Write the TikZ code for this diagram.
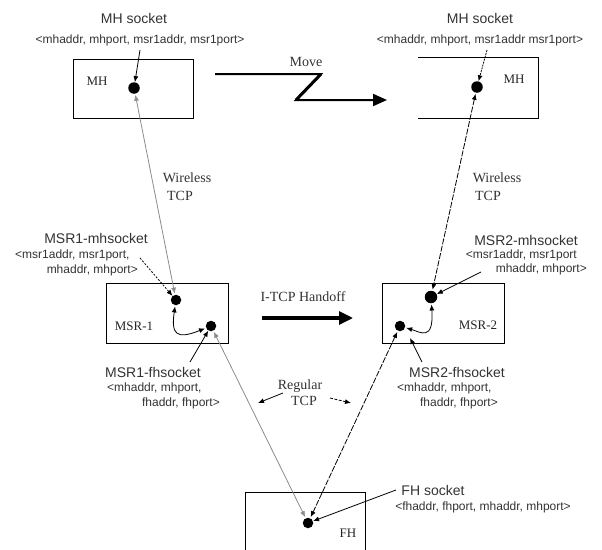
\documentclass[tikz,border=0pt]{standalone}
\usepackage{fontspec}
\setmainfont{Liberation Serif}
\newfontfamily\arialf{Liberation Sans}
\usetikzlibrary{arrows.meta}
\begin{document}
\begin{tikzpicture}[x=1pt,y=-1pt,
  hostbox/.style={draw, line width=0.8pt, inner sep=0pt},
  sock/.style={circle, fill=black, inner sep=0pt, minimum size=10.5pt},
  bigsock/.style={circle, fill=black, inner sep=0pt, minimum size=12.5pt},
  boxlbl/.style={font=\fontsize{13}{15}\selectfont, text=black!85, inner sep=0pt},
  serlbl/.style={font=\fontsize{14}{16}\selectfont, text=black!80, inner sep=0pt},
  socktitle/.style={font=\arialf\fontsize{14}{16}\selectfont, text=black!80, inner sep=0pt},
  socktuple/.style={font=\arialf\fontsize{12}{14}\selectfont, text=black!80, inner sep=0pt},
  tip/.style={-{Latex[length=6pt,width=5pt]}},
  both/.style={{Latex[length=6pt,width=5pt]}-{Latex[length=6pt,width=5pt]}},
  grayconn/.style={both, draw=black!45, line width=0.8pt, shorten <=1pt, shorten >=1pt},
  dashconn/.style={both, line width=0.8pt, dash pattern=on 6pt off 1.5pt, shorten <=1pt, shorten >=1pt},
  ptr/.style={tip, line width=0.8pt},
  bigarrow/.style={line width=2pt, -{Triangle[length=14pt,width=12pt]}}
]
\clip (0,0) rectangle (602,549);
\fill[white] (0,0) rectangle (602,549);

% host boxes
\node[hostbox, minimum width=120pt, minimum height=59pt] (mhL) at (133,88.5) {};
\node[minimum width=120pt, minimum height=60pt, inner sep=0pt] (mhR) at (478,88) {};
\draw[line width=0.8pt] (mhR.north west) -- (mhR.north east) -- (mhR.south east) -- (mhR.south west);
\node[hostbox, minimum width=122pt, minimum height=60pt] (msr1) at (167,313) {};
\node[hostbox, minimum width=122pt, minimum height=60pt] (msr2) at (443,313) {};
\node[hostbox, minimum width=120pt, minimum height=68pt] (fh) at (305,526) {};

% box labels
\node[boxlbl] (mhLt) at (97,81) {MH};
\node[boxlbl] (mhRt) at (514,79) {MH};
\node[boxlbl] (msr1t) at (134,326) {MSR-1};
\node[boxlbl] (msr2t) at (478,325) {MSR-2};
\node[boxlbl] (fht) at (348,533) {FH};

% sockets
\node[sock, minimum size=11.5pt] (mhdL) at (134,88) {};
\node[sock, minimum size=11.5pt] (mhdR) at (477,87) {};
\node[sock] (m1d1) at (176,300) {};
\node[sock] (m1d2) at (211,326) {};
\node[bigsock] (m2d1) at (431,297) {};
\node[sock] (m2d2) at (400,326) {};
\node[sock] (fhd) at (308,523) {};

% socket labels
\node[socktitle] (tMHL) at (134,18) {MH socket};
\node[socktuple] (uMHL) at (140,40) {<mhaddr, mhport, msr1addr, msr1port>};
\node[socktuple] (uMHR) at (480,40) {<mhaddr, mhport, msr1addr msr1port>};
\node[socktitle] (tMHR) at (480,18) {MH socket};

\node[socktitle] (tM1m) at (96,238) {MSR1-mhsocket};
\node[socktuple, anchor=west] (uM1m1) at (15,255) {<msr1addr, msr1port,};
\node[socktuple, anchor=east] (uM1m2) at (138,270) {mhaddr, mhport>};

\node[socktitle] (tM1f) at (153,372) {MSR1-fhsocket};
\node[socktuple, anchor=west] (uM1f1) at (107,388) {<mhaddr, mhport,};
\node[socktuple, anchor=east] (uM1f2) at (220,403) {fhaddr, fhport>};

\node[socktitle] (tM2m) at (526,240) {MSR2-mhsocket};
\node[socktuple, anchor=east] (uM2m1) at (577,255) {<msr1addr, msr1port};
\node[socktuple, anchor=east] (uM2m2) at (587,269) {mhaddr, mhport>};

\node[socktitle] (tM2f) at (457,372) {MSR2-fhsocket};
\node[socktuple, anchor=west] (uM2f1) at (397,388) {<mhaddr, mhport,};
\node[socktuple, anchor=east] (uM2f2) at (498,403) {fhaddr, fhport>};

\node[socktitle] (tFH) at (433,490) {FH socket};
\node[socktuple] (uFH) at (483,507) {<fhaddr, fhport, mhaddr, mhport>};

% serif labels
\node[serlbl] (wl1) at (187,178) {Wireless};
\node[serlbl] (wl2) at (180,196) {TCP};
\node[serlbl] (wr1) at (497,178) {Wireless};
\node[serlbl] (wr2) at (488,196) {TCP};
\node[serlbl] (mv) at (306,62) {Move};
\node[serlbl] (ho) at (303,297) {I-TCP Handoff};
\node[serlbl] (rg1) at (300,386) {Regular};
\node[serlbl] (rg2) at (304,401) {TCP};

% pointer coordinates
\coordinate (pMHL) at (140,50);
\coordinate (pMHR) at (487,50);
\coordinate (pM1m) at (140,258);
\coordinate (pM1f) at (190,362);
\coordinate (pM2m) at (481,272);
\coordinate (pM2f) at (422,362);
\coordinate (pM2fT) at (410,338);
\coordinate (pFH) at (396,490);
\coordinate (rgLs) at (283,393);
\coordinate (rgLe) at (258,403);
\coordinate (rgRs) at (330,398);
\coordinate (rgRe) at (351,403);

% move arrow
\coordinate (mv0) at (215,74);
\coordinate (mv1) at (321,74);
\coordinate (mv2) at (296,100);
\coordinate (mv3) at (387,100);
\draw[bigarrow, line join=miter] (mv0) -- (mv1) -- (mv2) -- (mv3);
\draw[line width=3pt] (mv1) -- (mv2);

% handoff arrow
\coordinate (ho0) at (262,318);
\coordinate (ho1) at (353,318);
\draw[line width=3.2pt, -{Triangle[length=14pt,width=13pt]}] (ho0) -- (ho1);

% connections
\draw[grayconn] (mhdL) -- (m1d1);
\draw[dashconn] (mhdR) -- (m2d1);
\draw[grayconn] (m1d2) -- (fhd);
\draw[dashconn] (m2d2) -- (fhd);

% internal connections
\draw[both, line width=0.8pt, shorten <=1pt, shorten >=1pt]
  (m1d1) .. controls (171,334) and (176,340) .. (m1d2);
\draw[both, line width=0.8pt, shorten <=1pt, shorten >=1pt]
  (m2d1) .. controls (434,342) and (420,332) .. (m2d2);

% pointers
\draw[ptr] (pMHL) -- (mhdL);
\draw[ptr, dash pattern=on 2pt off 1pt] (pMHR) -- (mhdR);
\draw[ptr, dash pattern=on 2pt off 1.5pt] (pM1m) -- (m1d1);
\draw[ptr] (pM1f) -- (m1d2);
\draw[ptr] (pM2m) -- (m2d1);
\draw[ptr] (pM2f) -- (pM2fT);
\draw[ptr] (pFH) -- (fhd);
\draw[ptr] (rgLs) -- (rgLe);
\draw[ptr, dash pattern=on 3pt off 1.5pt] (rgRs) -- (rgRe);
\end{tikzpicture}
\end{document}
